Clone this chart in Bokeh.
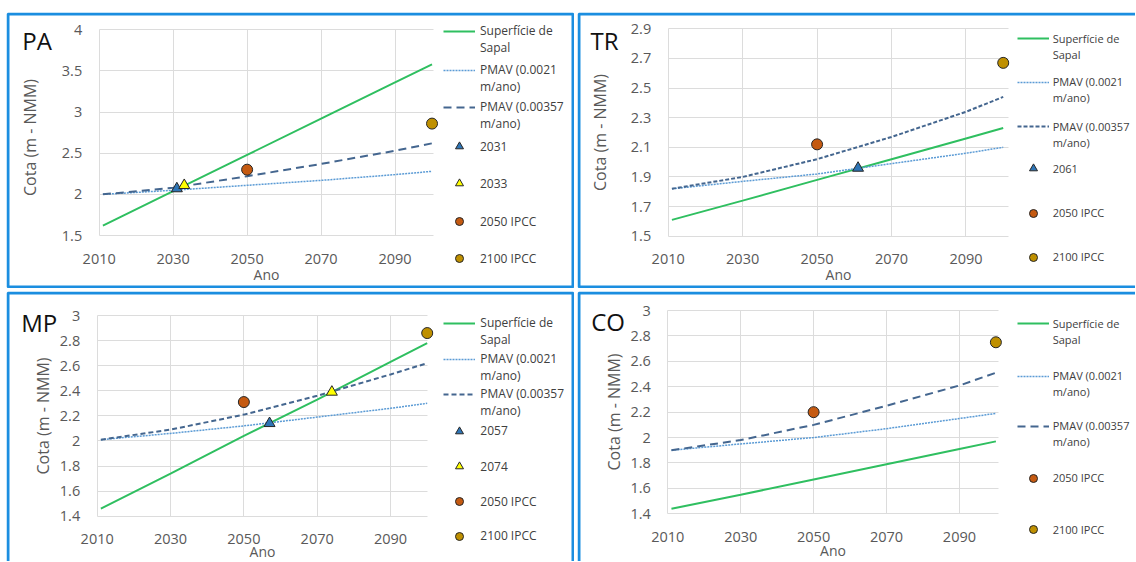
from bokeh.plotting import figure
from bokeh.models import (Range1d, FixedTicker, NumeralTickFormatter, Legend, LegendItem,
                          Label, Spacer, BoxAnnotation)
from bokeh.layouts import row, column
from bokeh.embed import file_html
from bokeh.resources import INLINE

FONT = "Open Sans"
BLUE_BORDER = "#1b8ee0"

# ---------------- data ----------------
YEARS = [2011, 2030, 2050, 2070, 2090, 2100]
X_TICKS = [2010, 2030, 2050, 2070, 2090]
IPCC_YEARS = [2050, 2100]
IPCC_LABELS = ["2050 IPCC", "2100 IPCC"]
LABEL_SAPAL = ["Superfície de", "Sapal"]
LABEL_P21 = ["PMAV (0.0021", "m/ano)"]
LABEL_P357 = ["PMAV (0.00357", "m/ano)"]

PA_SAPAL = [1.62, 2.04, 2.48, 2.92, 3.36, 3.58]
PA_P21 = [2.00, 2.05, 2.11, 2.17, 2.24, 2.28]
PA_P357 = [2.00, 2.08, 2.22, 2.37, 2.53, 2.62]
PA_CROSS_YEARS = [2031, 2033]
PA_CROSS_VALUES = [2.07, 2.11]
PA_CROSS_LABELS = ["2031", "2033"]
PA_IPCC = [2.30, 2.86]
PA_YTICKS = [1.5, 2, 2.5, 3, 3.5, 4]

TR_SAPAL = [1.61, 1.74, 1.88, 2.02, 2.16, 2.23]
TR_P21 = [1.82, 1.87, 1.92, 1.99, 2.06, 2.10]
TR_P357 = [1.82, 1.90, 2.02, 2.17, 2.34, 2.44]
TR_CROSS_YEARS = [2061]
TR_CROSS_VALUES = [1.96]
TR_CROSS_LABELS = ["2061"]
TR_IPCC = [2.12, 2.67]
TR_YTICKS = [1.5, 1.7, 1.9, 2.1, 2.3, 2.5, 2.7, 2.9]

MP_SAPAL = [1.46, 1.74, 2.04, 2.33, 2.63, 2.78]
MP_P21 = [2.01, 2.06, 2.12, 2.19, 2.26, 2.30]
MP_P357 = [2.01, 2.09, 2.21, 2.36, 2.53, 2.62]
MP_CROSS_YEARS = [2057, 2074]
MP_CROSS_VALUES = [2.14, 2.39]
MP_CROSS_LABELS = ["2057", "2074"]
MP_IPCC = [2.31, 2.86]
MP_YTICKS = [1.4, 1.6, 1.8, 2.0, 2.2, 2.4, 2.6, 2.8, 3.0]

CO_SAPAL = [1.44, 1.55, 1.67, 1.79, 1.91, 1.97]
CO_P21 = [1.90, 1.95, 2.00, 2.07, 2.15, 2.19]
CO_P357 = [1.90, 1.98, 2.10, 2.25, 2.41, 2.51]
CO_CROSS_YEARS = []
CO_CROSS_VALUES = []
CO_CROSS_LABELS = []
CO_IPCC = [2.20, 2.75]
CO_YTICKS = [1.4, 1.6, 1.8, 2.0, 2.2, 2.4, 2.6, 2.8, 3.0]

# ---------------- styles / layout ----------------
GREEN = "#2fbf60"
DOT_BLUE = "#5b9bd5"
DASH_BLUE = "#44668f"
CROSS_COLORS = ["#2e75b6", "#ffff00"]
IPCC_COLORS = ["#c55a11", "#bf9000"]
EDGE = "#262626"


def build(name, sapal, p21, p357, cyears, cvals, clabels, ipcc, yticks, L):
    W, H = L["w"], L["h"]
    fl, fr, ft, fb = L["frame"]
    xmin, xmax = X_TICKS[0], L["xmax"]
    ymin, ymax = yticks[0], yticks[-1]
    kx = (fr - fl) / (xmax - xmin)
    ky = (fb - ft) / (ymax - ymin)
    p = figure(width=W, height=H,
               x_range=Range1d(xmin - fl / kx, xmin + (W - fl) / kx),
               y_range=Range1d(ymin - (H - fb) / ky, ymax + ft / ky),
               output_backend="svg", toolbar_location=None,
               min_border_left=0, min_border_right=0,
               min_border_top=0, min_border_bottom=0)
    p.outline_line_color = None
    p.background_fill_color = "white"
    p.border_fill_color = "white"

    p.xaxis.ticker = FixedTicker(ticks=X_TICKS)
    p.yaxis.ticker = FixedTicker(ticks=yticks)
    p.xaxis.formatter = NumeralTickFormatter(format="0")
    p.yaxis.formatter = NumeralTickFormatter(format="0.[0]")
    p.xaxis.fixed_location = ymin
    p.yaxis.fixed_location = xmin
    p.xaxis.bounds = (xmin, xmax)
    p.yaxis.bounds = (ymin - L["ylab_shift"], ymax)

    p.grid.grid_line_color = "#dcdcdc"
    p.grid.grid_line_width = 1
    p.xgrid.bounds = (xmin - 1, xmax)
    p.xgrid.cross_bounds = (ymin, ymax)
    p.ygrid.bounds = (ymin - 0.05, ymax + 0.05)
    p.ygrid.cross_bounds = (xmin, xmax)

    for ax in (p.xaxis, p.yaxis):
        ax.axis_line_color = None
        ax.major_tick_line_color = None
        ax.minor_tick_line_color = None
        ax.major_tick_out = 0
        ax.major_tick_in = 0
        ax.major_label_text_font = FONT
        ax.major_label_text_font_size = "14.5px"
        ax.major_label_text_color = "#595959"
        ax.axis_label_text_font = FONT
        ax.axis_label_text_font_style = "normal"
        ax.axis_label_text_color = "#595959"
    p.xaxis.axis_label = "Ano"
    p.xaxis.axis_label_text_font_size = "14px"
    p.xaxis.major_label_standoff = 18
    p.xaxis.axis_label_standoff = L["xlab_standoff"]
    p.yaxis.axis_label = "Cota (m - NMM)"
    p.yaxis.axis_label_text_font_size = "16px"
    p.yaxis.major_label_standoff = 17
    p.yaxis.axis_label_standoff = L["ylab_standoff"]

    r_sapal = p.line(YEARS, sapal, line_color=GREEN, line_width=2)
    r_p21 = p.line(YEARS, p21, line_color=DOT_BLUE, line_width=1.5, line_dash="2 1")
    r_p357 = p.line(YEARS, p357, line_color=DASH_BLUE, line_width=2, line_dash=L["dash"])
    blank = p.line(x=[], y=[], line_alpha=0)

    marker_items = []
    for i in range(len(cyears)):
        r = p.scatter([cyears[i]], [cvals[i]], marker="triangle", size=11,
                      fill_color=CROSS_COLORS[i], line_color=EDGE, line_width=1)
        marker_items.append((clabels[i], r))
    for i in range(len(IPCC_YEARS)):
        r = p.scatter([IPCC_YEARS[i]], [ipcc[i]], marker="circle", size=11,
                      fill_color=IPCC_COLORS[i], line_color=EDGE, line_width=1)
        marker_items.append((IPCC_LABELS[i], r))

    def add_legend(items, first_center, row_h):
        n = len(items)
        bottom = first_center - row_h / 2 + n * row_h
        leg = Legend(items=[LegendItem(label=t, renderers=[r]) for t, r in items],
                     location=(L["glyph_left"], H - bottom),
                     padding=0, margin=0, spacing=0,
                     glyph_width=32, glyph_height=row_h, label_height=row_h,
                     label_standoff=L["standoff"],
                     label_text_font=FONT, label_text_font_size=L["leg_font"],
                     label_text_color="#404040",
                     background_fill_alpha=0, border_line_alpha=0)
        p.add_layout(leg)

    g = L["groups"]
    add_legend([(LABEL_SAPAL[0], r_sapal), (LABEL_SAPAL[1], blank)], g[0], 16)
    add_legend([(LABEL_P21[0], r_p21), (LABEL_P21[1], blank)], g[1], 16)
    add_legend([(LABEL_P357[0], r_p357), (LABEL_P357[1], blank)], g[2], 16)
    for (t, r), c in zip(marker_items, L["markers"]):
        add_legend([(t, r)], c, 20)

    tx, ty = L["title"]
    p.add_layout(Label(x=tx, y=H - ty, x_units="screen", y_units="screen",
                       text=name, text_font=FONT, text_font_size="24px",
                       text_color="#111111", text_baseline="middle"))

    sides = L["sides"]
    p.add_layout(BoxAnnotation(
        left=1.5, right=(W - 1.5) if "right" in sides else W + 10,
        top=H - 1.5, bottom=1.5 if "bottom" in sides else -10,
        left_units="screen", right_units="screen",
        top_units="screen", bottom_units="screen",
        fill_color=None, fill_alpha=0,
        line_color=BLUE_BORDER, line_width=3, line_alpha=1))
    return p


L_PA = dict(w=568, h=276, frame=(92.7, 427, 17.3, 223), xmax=2100.4, glyph_left=437,
            groups=[20.3, 59, 96.3], markers=[134, 171.3, 209, 246.3],
            title=(15.7, 28), ylab_standoff=18, xlab_standoff=-2, dash="8 5",
            ylab_shift=0.12, leg_font="12px", standoff=5,
            sides=["top", "left", "right", "bottom"])
L_TR = dict(w=558, h=276, frame=(90.7, 431.3, 16.3, 223.7), xmax=2101.5, glyph_left=439.7,
            groups=[26.3, 69.7, 114], markers=[156.3, 200.7, 244.7],
            title=(13, 28), ylab_standoff=17, xlab_standoff=-3, dash="4 2",
            ylab_shift=0, leg_font="11px", standoff=4,
            sides=["top", "left", "bottom"])
L_MP = dict(w=568, h=270, frame=(90.7, 420.7, 24, 224.7), xmax=2100, glyph_left=437.3,
            groups=[33.3, 69, 104], markers=[139.7, 175, 210, 244.7],
            title=(14.7, 31), ylab_standoff=3, xlab_standoff=-6, dash="5 3",
            ylab_shift=0, leg_font="12px", standoff=5,
            sides=["top", "left", "right"])
L_CO = dict(w=558, h=270, frame=(90.3, 421.3, 19, 222.3), xmax=2100.8, glyph_left=439.7,
            groups=[32.3, 84.7, 134.7], markers=[186.7, 238],
            title=(13.7, 30), ylab_standoff=2, xlab_standoff=-4, dash="8 5",
            ylab_shift=0, leg_font="11px", standoff=4,
            sides=["top", "left"])

pa = build("PA", PA_SAPAL, PA_P21, PA_P357, PA_CROSS_YEARS, PA_CROSS_VALUES, PA_CROSS_LABELS, PA_IPCC, PA_YTICKS, L_PA)
tr = build("TR", TR_SAPAL, TR_P21, TR_P357, TR_CROSS_YEARS, TR_CROSS_VALUES, TR_CROSS_LABELS, TR_IPCC, TR_YTICKS, L_TR)
mp = build("MP", MP_SAPAL, MP_P21, MP_P357, MP_CROSS_YEARS, MP_CROSS_VALUES, MP_CROSS_LABELS, MP_IPCC, MP_YTICKS, L_MP)
co = build("CO", CO_SAPAL, CO_P21, CO_P357, CO_CROSS_YEARS, CO_CROSS_VALUES, CO_CROSS_LABELS, CO_IPCC, CO_YTICKS, L_CO)

layout = column(
    Spacer(height=12),
    row(Spacer(width=6), pa, Spacer(width=3), tr),
    Spacer(height=3),
    row(Spacer(width=6), mp, Spacer(width=3), co),
)

with open("out.html", "w") as f:
    f.write(file_html(layout, INLINE))
